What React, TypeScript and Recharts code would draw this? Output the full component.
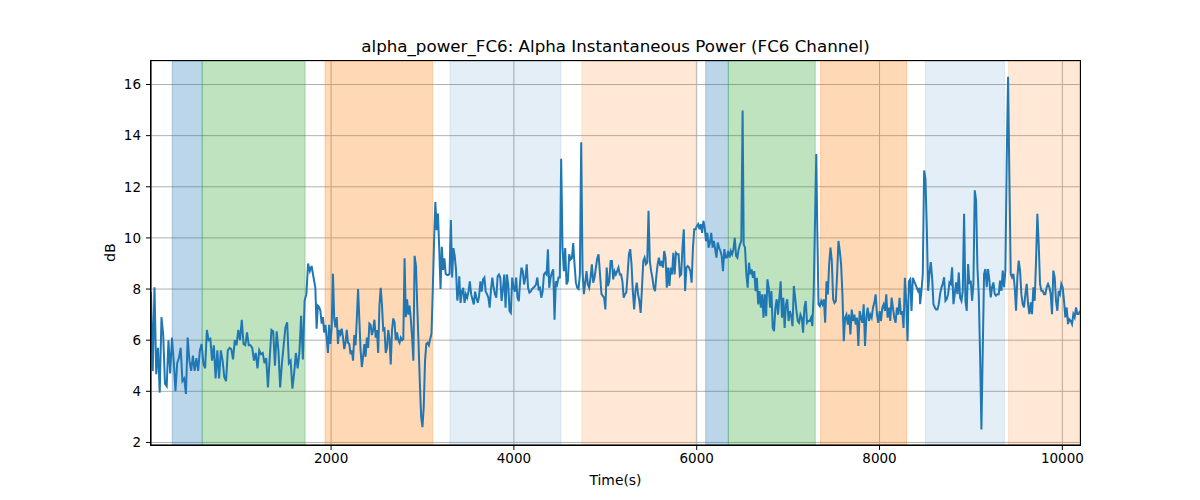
import React from "react";
import {
  CartesianGrid,
  Line,
  LineChart,
  ReferenceArea,
  XAxis,
  YAxis,
} from "recharts";

// alpha power readings, one array per stretch of the recording
const segA = [
  7.87, 4.8, 8.07, 4.67, 5.7, 3.95, 6.9, 6.2, 4.3, 4.2, 6.0, 4.7, 6.1, 5.2, 4.0, 5.1, 5.3, 5.7, 4.4, 4.5,
  3.9, 6.1, 5.2, 4.8, 5.4, 4.8, 5.3, 4.8, 5.6, 5.85, 5.1, 4.9, 6.4, 6.0, 6.05, 5.2, 5.8, 4.5, 5.6, 4.5,
  5.6, 5.2, 4.55, 4.4, 5.6, 5.7, 5.65, 5.25, 6.0, 5.8, 6.4, 6.0, 6.8, 5.85, 5.8, 6.3, 5.8, 5.8, 5.7, 5.2,
  5.5, 4.9, 5.6, 5.45, 5.5, 5.1, 5.3, 4.15, 5.3, 6.4, 6.35, 5.0, 6.35, 5.6, 4.15, 5.1, 5.8, 6.5, 6.7, 5.1,
  5.2, 4.1, 4.7, 5.5, 4.9, 5.5, 6.95, 5.25, 7.55, 7.8, 9.0, 8.7, 8.9, 8.5,
];
const segB = [
  8.05, 6.45, 7.35, 7.3, 7.15, 6.65, 6.9, 6.3, 6.6, 6.1, 5.5, 6.6, 5.85, 6.5, 8.6, 6.85, 6.5, 6.9, 5.85, 6.4,
  6.25, 6.45, 6.1, 5.65, 5.9, 6.4, 5.9, 5.85, 5.45, 5.6, 5.2, 6.2, 5.8, 6.85, 8.0, 6.8, 5.6, 4.95, 5.35, 5.85,
  5.35, 6.1, 5.7, 6.65, 6.6, 6.2, 6.4, 6.8, 6.1, 6.4, 5.5, 7.35, 8.05, 7.4, 6.4, 6.45, 5.5, 5.7, 6.4, 6.05,
  5.05, 6.4, 6.85, 6.7, 6.0, 6.3, 6.0, 5.9, 6.1, 6.0, 6.05, 9.2, 6.9, 7.6, 7.0, 7.35, 6.8, 6.1, 5.2, 9.3,
];
const segC = [
  8.9, 7.3, 5.85, 4.3, 3.0, 2.6, 3.4, 5.2, 5.85, 5.9, 5.8, 6.05, 6.25, 7.95, 9.9, 11.4, 10.3, 10.95, 9.6, 8.0,
  9.65, 8.75, 9.2, 8.6, 8.55, 8.55, 8.6, 10.7, 8.45, 9.6, 9.3, 8.75, 7.55, 7.95,
];
const segD = [
  8.5, 7.46, 7.9, 8.05, 7.46, 7.8, 7.66, 7.9, 8.3, 7.8, 7.6, 7.4, 7.9, 7.66, 7.46, 7.72, 8.3, 7.9, 8.38, 8.45,
  7.9, 7.8, 7.66, 7.27, 8.0, 8.45, 8.05, 7.8, 7.66, 8.5, 8.57, 8.45, 7.53, 8.0, 8.57, 7.27, 8.57, 8.18, 7.14, 7.07,
  8.45, 8.05, 7.9, 8.45, 7.66, 7.53, 8.3, 8.84, 8.7, 8.18, 8.45, 8.97, 8.05, 7.86, 7.9, 8.0, 8.05, 8.1, 8.18, 8.45,
  8.0, 8.05, 7.66, 7.9, 8.57, 8.64, 8.57, 9.55, 8.05, 8.45, 8.64, 8.77, 6.8, 8.3, 8.18, 8.45, 8.45, 13.1,
];
const segE = [
  9.6, 8.7, 9.6, 8.18, 8.3, 9.36, 9.15, 9.2, 9.8, 8.97, 8.25, 8.05, 8.0, 8.57, 13.74, 8.7, 7.8, 8.25, 8.7, 8.18,
  8.05, 8.45, 8.97, 8.25, 8.45, 8.84, 9.2, 9.36,
];
const segF = [
  7.8, 7.73, 7.66, 7.2, 8.84, 8.12, 8.31, 9.1, 9.1, 8.38, 8.7, 8.57, 8.7, 8.84, 8.57, 8.57, 8.31, 7.66, 7.8, 7.86,
  8.57, 9.36, 9.56, 8.97, 7.92, 7.2, 7.92, 8.25, 7.8, 7.53, 7.07, 8.05, 9.1, 9.23, 8.97, 9.03, 11.06, 9.1, 8.7, 8.44,
  8.05, 7.92, 8.51, 8.97, 9.23, 8.9, 9.1, 8.84, 9.49, 9.23, 8.05, 8.84, 8.12, 8.84, 8.57, 9.42, 8.57, 9.42, 9.36, 9.36,
  8.51, 8.57, 9.62, 10.34, 7.92, 8.84, 8.9, 8.84, 8.7, 8.25, 9.62, 10.34, 10.34, 10.47, 10.54, 10.34, 10.54, 10.2, 10.67, 10.4,
  9.87, 10.2, 9.62, 9.82, 10.2, 9.62, 9.88, 9.56, 9.23, 9.82, 9.62, 9.49, 9.3, 8.7, 9.56, 9.23, 9.23, 9.49, 9.23, 9.49,
  9.36, 9.56, 10.0, 9.3, 9.23, 9.56, 9.75, 9.88, 14.98,
];
const segG = [
  9.75, 9.62, 8.58, 8.05, 9.03, 8.58, 8.77, 8.44, 8.7, 7.92, 8.44, 7.4, 7.92, 7.27, 7.79, 6.88, 7.79, 6.94, 8.38, 8.05,
  7.27, 7.92, 6.48, 6.35, 7.27, 7.6, 7.0, 7.66, 8.3, 6.88, 7.66, 6.48, 7.4, 7.6, 6.75, 7.14, 6.94, 6.55, 8.12, 7.66,
  7.14, 6.75, 6.68, 7.0, 6.88, 6.29, 7.27, 7.53, 6.68, 6.75, 6.75, 6.88, 6.55, 7.79, 10.54, 13.28,
];
const segH = [
  10.54, 7.4, 7.33, 7.53, 7.4, 7.6, 6.68, 8.3, 7.79, 8.97, 9.62, 9.1, 7.6, 7.46, 7.53, 8.58, 9.88, 9.49, 8.97, 7.79,
  5.96, 6.88, 7.0, 6.61, 7.0, 6.22, 7.2, 6.75, 7.0, 6.61, 6.88, 5.77, 7.14, 6.88, 6.68, 7.4, 5.77, 6.88, 7.27, 6.75,
  7.0, 6.88, 7.27, 7.46, 7.79, 7.0, 6.68, 7.14, 6.75, 7.27, 7.4, 7.14, 7.79, 6.88, 7.27, 6.75, 7.66, 7.27, 6.88, 6.68,
  7.27, 7.0, 7.66, 7.0, 7.14, 6.48, 8.44, 7.53, 5.96, 8.3, 8.38, 7.14, 8.44, 8.3, 8.18, 8.05, 7.92, 8.05,
];
const segI = [
  7.41, 7.93, 8.59, 12.64, 12.31, 10.42, 7.93, 8.59, 9.05, 8.46, 7.41, 7.28, 7.2, 7.2, 7.41, 7.8, 8.07, 8.2, 8.46, 7.54,
  7.61, 7.8, 8.26, 8.2, 8.85, 7.41, 7.8, 8.26, 7.8, 8.65, 7.67, 7.54, 7.93, 10.94, 7.54, 7.15, 8.98, 8.2, 8.33, 7.54,
  8.2, 11.86, 11.46, 8.85, 7.8, 5.45, 2.51, 5.58, 8.59, 8.78, 8.07, 8.78, 8.33, 7.67, 8.07, 8.26, 7.8, 7.74, 7.8, 7.8,
  8.33, 7.93, 8.72, 8.07, 8.72, 13.03, 16.3, 12.38, 8.59, 8.46, 8.59, 8.07, 7.15, 8.46, 9.11, 8.72, 7.8, 7.41, 7.28, 7.8,
  8.2, 7.41, 7.02, 7.48, 7.02, 8.07, 7.54, 9.11, 10.94, 9.76, 8.2, 7.93, 7.93, 7.8, 7.8, 8.07, 8.2, 8.07, 7.8, 7.02,
  8.72, 8.46, 7.54, 7.15, 7.93, 7.8, 8.2, 8.07, 7.54, 6.89, 7.28, 6.63, 6.82, 6.76, 6.63, 7.02, 6.89, 7.28, 7.02, 7.02, 7.15,
];

// first / last time (s) of each stretch above
const segments = [segA, segB, segC, segD, segE, segF, segG, segH, segI];
const segmentSpans = [
  [30, 1806],
  [1828, 2914],
  [2929, 3395],
  [3402, 4517],
  [4532, 4926],
  [4958, 6502],
  [6514, 7308],
  [7318, 8437],
  [8444, 10193],
];

// shaded task windows: [start, end, kind]
const bands: [number, number, string][] = [
  [262, 590, "blue"],
  [590, 1716, "green"],
  [1934, 3111, "orange"],
  [3300, 4514, "lightBlue"],
  [4743, 5989, "lightOrange"],
  [6098, 6346, "blue"],
  [6346, 7297, "green"],
  [7355, 8295, "orange"],
  [8503, 9366, "lightBlue"],
  [9410, 10193, "lightOrange"],
];

const xTicks = [2000, 4000, 6000, 8000, 10000];
const yTicks = [2, 4, 6, 8, 10, 12, 14, 16];

const bandStyle: Record<string, { color: string; opacity: number }> = {
  blue: { color: "#1f77b4", opacity: 0.3 },
  green: { color: "#2ca02c", opacity: 0.3 },
  orange: { color: "#ff7f0e", opacity: 0.3 },
  lightBlue: { color: "#1f77b4", opacity: 0.12 },
  lightOrange: { color: "#ff7f0e", opacity: 0.17 },
};

const rows = segments.flatMap((vals, k) => {
  const [t0, t1] = segmentSpans[k];
  const dt = (t1 - t0) / (vals.length - 1);
  return vals.map((v, j) => ({ t: t0 + j * dt, power: v }));
});

const font = "'DejaVu Sans', sans-serif";
const tickStyle = { fill: "#000", fontSize: 13.5, fontFamily: font };

export default function App() {
  return (
    <div
      style={{
        position: "absolute",
        left: 0,
        top: 0,
        width: 1200,
        height: 500,
        background: "#fff",
        fontFamily: font,
      }}
    >
      <div
        style={{
          position: "absolute",
          left: 151,
          width: 929,
          top: 36,
          textAlign: "center",
          fontSize: 16.7,
          lineHeight: "20px",
          color: "#000",
        }}
      >
        alpha_power_FC6: Alpha Instantaneous Power (FC6 Channel)
      </div>
      <div
        style={{
          position: "absolute",
          left: 151,
          width: 929,
          top: 472,
          textAlign: "center",
          fontSize: 13.9,
          lineHeight: "17px",
          color: "#000",
        }}
      >
        Time(s)
      </div>
      <div
        style={{
          position: "absolute",
          left: 90,
          top: 244,
          width: 40,
          textAlign: "center",
          fontSize: 13.9,
          lineHeight: "17px",
          transform: "rotate(-90deg)",
          color: "#000",
        }}
      >
        dB
      </div>
      <LineChart
        width={1200}
        height={500}
        data={rows}
        margin={{ top: 61, right: 120, bottom: 10, left: 91 }}
      >
        {bands.map(([a, b, kind], i) => (
          <ReferenceArea
            key={i}
            x1={a}
            x2={b}
            fill={bandStyle[kind].color}
            fillOpacity={bandStyle[kind].opacity}
            stroke={bandStyle[kind].color}
            strokeOpacity={bandStyle[kind].opacity}
          />
        ))}
        <CartesianGrid stroke="#b0b0b0" strokeWidth={1} />
        <XAxis
          dataKey="t"
          type="number"
          domain={[30, 10193]}
          ticks={xTicks}
          allowDataOverflow
          height={45}
          tick={tickStyle}
          tickSize={5}
          tickMargin={3}
          stroke="#000"
        />
        <YAxis
          type="number"
          domain={[1.9, 16.92]}
          ticks={yTicks}
          allowDataOverflow
          width={60}
          tick={tickStyle}
          tickSize={5}
          tickMargin={5}
          stroke="#000"
        />
        <Line
          dataKey="power"
          type="linear"
          stroke="#1f77b4"
          strokeWidth={2}
          dot={false}
          isAnimationActive={false}
        />
      </LineChart>
      <div
        style={{
          position: "absolute",
          left: 150,
          top: 60,
          width: 931,
          height: 386,
          border: "1px solid #000",
          boxSizing: "border-box",
          pointerEvents: "none",
        }}
      />
    </div>
  );
}
